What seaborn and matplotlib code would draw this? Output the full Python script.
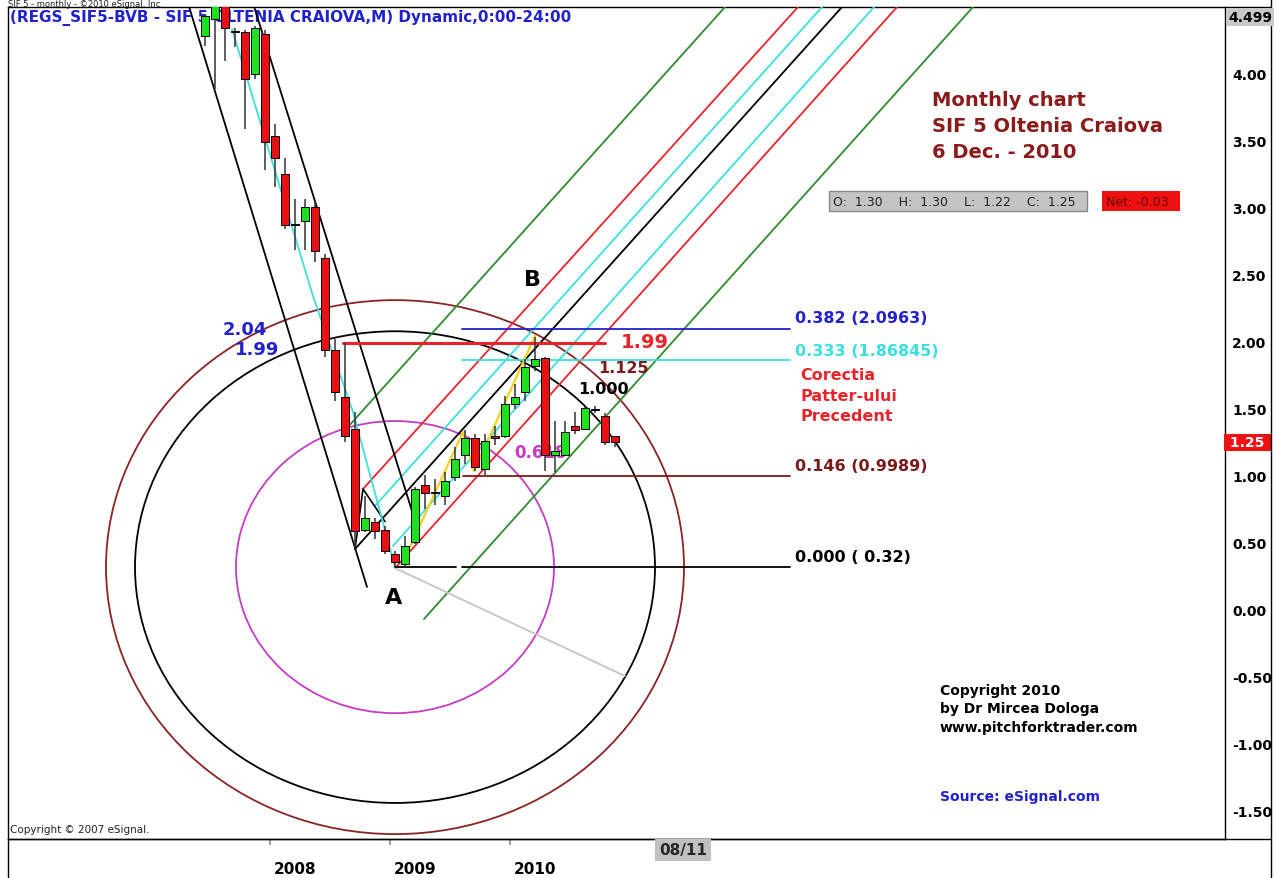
import numpy as np
import seaborn as sns
import matplotlib.pyplot as plt
import matplotlib.transforms as mtransforms
from matplotlib.patches import Ellipse
from matplotlib.lines import Line2D

sns.set_theme(style="white")
plt.rcParams['font.family'] = ['DejaVu Sans']

# monthly candles SIF5, index 0 = Jul 2007 ... 41 = Dec 2010
opens = [4.28, 4.41, 4.60, 4.32, 4.31, 4.00, 4.30, 3.54, 3.25, 2.88, 2.90, 3.01, 2.63, 1.94,
         1.59, 1.35, 0.60, 0.66, 0.60, 0.42, 0.34, 0.51, 0.93, 0.88, 0.85, 0.99, 1.16, 1.28,
         1.05, 1.30, 1.30, 1.54, 1.63, 1.82, 1.88, 1.16, 1.16, 1.37, 1.35, 1.50, 1.45, 1.30]
highs = [4.45, 4.70, 4.70, 4.34, 4.33, 4.36, 4.33, 3.63, 3.37, 3.07, 3.07, 3.05, 2.66, 2.02,
         1.99, 1.48, 0.85, 0.69, 0.63, 0.44, 0.55, 0.92, 1.01, 0.98, 1.03, 1.22, 1.34, 1.31,
         1.31, 1.37, 1.60, 1.69, 1.87, 2.04, 1.89, 1.41, 1.41, 1.48, 1.52, 1.52, 1.47, 1.30]
lows = [4.21, 3.89, 4.10, 4.20, 3.59, 3.96, 3.28, 3.16, 2.84, 2.69, 2.69, 2.60, 1.89, 1.56,
        1.25, 0.46, 0.58, 0.53, 0.42, 0.32, 0.33, 0.49, 0.75, 0.78, 0.78, 0.96, 1.09, 1.04,
        1.01, 1.23, 1.28, 1.50, 1.56, 1.78, 1.04, 1.03, 1.15, 1.31, 1.34, 1.47, 1.23, 1.22]
closes = [4.43, 4.55, 4.34, 4.31, 3.96, 4.34, 3.49, 3.37, 2.87, 2.87, 3.01, 2.68, 1.94, 1.63,
          1.30, 0.59, 0.69, 0.59, 0.44, 0.36, 0.48, 0.90, 0.87, 0.87, 0.96, 1.13, 1.28, 1.07,
          1.26, 1.28, 1.54, 1.59, 1.81, 1.87, 1.16, 1.19, 1.33, 1.34, 1.51, 1.49, 1.25, 1.25]

year_ticks = [6.5, 18.5, 30.5]
year_labels = ['2008', '2009', '2010']
price_ticks = [-1.5, -1.0, -0.5, 0.0, 0.5, 1.0, 1.5, 2.0, 2.5, 3.0, 3.5, 4.0]

# pitchfork parallels: start point and end at top edge
fork_x0 = [14.3, 15.8, 17.0, 15.0, 18.8, 19.2, 21.9]
fork_y0 = [1.366, 0.903, 0.776, 0.455, 0.478, 0.328, -0.067]
fork_x1 = [52.6, 59.9, 62.3, 64.3, 67.5, 69.8, 77.4]
fork_y1 = [4.55, 4.55, 4.55, 4.55, 4.55, 4.55, 4.55]
fork_colors = ['#2e8b2e', '#e8242a', '#3cdede', 'black', '#3cdede', '#e8242a', '#2e8b2e']

# downtrend channel
down_left_x, down_left_y = [-2.0, 16.2], [4.60, 0.172]
down_right_x, down_right_y = [4.5, 20.7], [4.60, 0.739]
cyan_x = [2.7, 10.8, 14.8, 19.0]
cyan_y = [4.336, 2.343, 1.478, 0.321]
yellow_x = [20.5, 25.8, 26.9, 33.0]
yellow_y = [0.47, 1.328, 1.037, 2.045]
handle_x, handle_y = [15.0, 15.8, 18.0], [0.455, 0.903, 0.66]
gray_x, gray_y = [19.0, 42.0], [0.313, -0.493]

# fibonacci levels
lvl_values = [0.32, 0.9989, 1.86845, 2.0963]
lvl_x0 = [25.7, 25.8, 25.7, 25.7]
lvl_x1 = 58.5
lvl_colors = ['black', '#7a1a1a', '#3cdede', '#2222cc']
lvl_texts = ['0.000 ( 0.32)', '0.146 (0.9989)', '0.333 (1.86845)', '0.382 (2.0963)']
lvl_text_y = [0.40, 1.08, 1.94, 2.18]
red_level = 1.99

# fib circles around A
circ_center = (19.0, 0.32)
circ_w = [31.8, 52.0, 57.8]
circ_h = [2.18, 3.52, 3.985]
circ_colors = ['#c43cc4', 'black', '#8b2323']

W, H = 1287, 879
L, R, T, B = 8, 1225, 8, 840
fig = plt.figure(figsize=(W / 100, H / 100), dpi=100)
fig.patch.set_facecolor('white')
ax = fig.add_axes([L / W, 1 - B / H, (R - L) / W, (B - T) / H])
ax.set_facecolor('white')
ax.set_xlim(-19.7, 102.0)
ax.set_ylim(-1.709, 4.50)


def fx(x):
    return x / W


def fy(y):
    return 1 - y / H


def axx(x):
    return (x - L) / (R - L)


def axy(y):
    return (B - y) / (B - T)


# header inside plot, under the candles
ax.text(axx(10), axy(18), '(REGS_SIF5-BVB - SIF 5 OLTENIA CRAIOVA,M) Dynamic,0:00-24:00',
        transform=ax.transAxes, color='#2222cc', fontsize=11, fontweight='bold',
        va='center', ha='left', zorder=1)

# circles
for w, h, col in zip(circ_w, circ_h, circ_colors):
    ax.add_patch(Ellipse(circ_center, w, h, fill=False, edgecolor=col, lw=1.3, zorder=2))

# fork lines
for x0, y0, x1, y1, col in zip(fork_x0, fork_y0, fork_x1, fork_y1, fork_colors):
    ax.plot([x0, x1], [y0, y1], color=col, lw=1.3, zorder=3)
ax.plot(handle_x, handle_y, color='black', lw=1.2, zorder=3)
ax.plot(down_left_x, down_left_y, color='black', lw=1.3, zorder=3)
ax.plot(down_right_x, down_right_y, color='black', lw=1.3, zorder=3)
ax.plot(cyan_x, cyan_y, color='#3cdede', lw=1.3, zorder=3)
ax.plot(yellow_x, yellow_y, color='#f2d21b', lw=1.6, zorder=3)
ax.plot(gray_x, gray_y, color='#c4c4c4', lw=1.3, zorder=3)

# fib levels
ax.plot([19.0, 25.1], [lvl_values[0]] * 2, color='black', lw=1.3, zorder=3)
for v, x0, col, txt, ty in zip(lvl_values, lvl_x0, lvl_colors, lvl_texts, lvl_text_y):
    ax.plot([x0, lvl_x1], [v, v], color=col, lw=1.3, zorder=3)
    ax.text(59.0, ty, txt, color=col, fontsize=11.5, fontweight='bold', va='center', zorder=4)
ax.plot([13.8, 40.0], [red_level, red_level], color='#e8242a', lw=2.2, zorder=3)

# candles
idx = np.arange(len(opens))
o = np.array(opens)
c = np.array(closes)
up = c >= o
body_bot = np.minimum(o, c)
body_h = np.maximum(np.abs(c - o), 0.012)
body_col = np.where(up, '#1ee01e', '#e81010')
ax.vlines(idx, lows, highs, color='#333333', lw=1.1, zorder=5)
ax.bar(idx, body_h, bottom=body_bot, width=0.72, color=body_col, edgecolor='black',
       linewidth=0.7, zorder=6)

# chart annotations
ax.text(33.5, 1.18, '0.618', color='#c43cc4', fontsize=12, fontweight='bold', ha='center',
        va='center', zorder=4)
ax.text(32.8, 2.47, 'B', color='black', fontsize=16, fontweight='bold', ha='center', va='center', zorder=7)
ax.text(18.9, 0.10, 'A', color='black', fontsize=16, fontweight='bold', ha='center', va='center', zorder=7)
ax.text(4.0, 2.10, '2.04', color='#2222cc', fontsize=13, fontweight='bold', ha='center', va='center', zorder=7)
ax.text(5.2, 1.95, '1.99', color='#2222cc', fontsize=13, fontweight='bold', ha='center', va='center', zorder=7)
ax.text(44.0, 2.0, '1.99', color='#e8242a', fontsize=14, fontweight='bold', ha='center', va='center', zorder=7)
ax.text(41.8, 1.81, '1.125', color='#7a1a1a', fontsize=11.5, fontweight='bold', ha='center', va='center', zorder=7)
ax.text(39.8, 1.65, '1.000', color='black', fontsize=11.5, fontweight='bold', ha='center', va='center', zorder=7)
for ty, txt in zip([1.76, 1.60, 1.45], ['Corectia', 'Patter-ului', 'Precedent']):
    ax.text(59.5, ty, txt, color='#e8242a', fontsize=11.5, fontweight='bold', va='center', zorder=7)

# axes styling
for s in ax.spines.values():
    s.set_color('black')
    s.set_linewidth(1.0)
ax.yaxis.tick_right()
ax.set_yticks(price_ticks)
ax.set_yticklabels(['%.2f' % v for v in price_ticks], fontsize=10, fontweight='bold', color='black')
ax.tick_params(axis='y', length=0, pad=5)
ax.set_xticks(year_ticks)
ax.set_xticklabels(year_labels, fontsize=11, fontweight='bold', color='black')
ax.tick_params(axis='x', direction='out', length=4, color='#999999', pad=12, bottom=True)
offset = mtransforms.ScaledTranslation(18 / 72, 0, fig.dpi_scale_trans)
for lab in ax.get_xticklabels():
    lab.set_transform(lab.get_transform() + offset)
ax.grid(False)

# right axis boxes
ax.text(1.0, 1.25, ' 1.25 ', transform=mtransforms.blended_transform_factory(ax.transAxes, ax.transData),
        color='white', fontsize=10, fontweight='bold', ha='left', va='center',
        bbox=dict(boxstyle='square,pad=0.1', fc='#ee1111', ec='none'), zorder=8, clip_on=False)
fig.text(fx(1228), fy(18), '4.499', color='black', fontsize=10, fontweight='bold', ha='left', va='center',
         bbox=dict(boxstyle='square,pad=0.15', fc='#c8c8c8', ec='none'))

# frame lines
for xs, ys in [([1271, 1271], [0, H]), ([L, 1271], [B, B]), ([L, L], [B, H]), ([R, 1271], [T, T])]:
    fig.add_artist(Line2D([fx(v) for v in xs], [fy(v) for v in ys], color='black', lw=1.0))

fig.text(fx(8), fy(0), 'SIF 5 - monthly - ©2010 eSignal, Inc.', fontsize=6, ha='left', va='top', color='#222222')
fig.text(fx(683), fy(851), '08/11', fontsize=11, fontweight='bold', ha='center', va='center',
         bbox=dict(boxstyle='square,pad=0.25', fc='#c0c0c0', ec='none'))

# info texts
for i, txt in enumerate(['Monthly chart', 'SIF 5 Oltenia Craiova', '6 Dec. - 2010']):
    fig.text(fx(932), fy(100 + 26.5 * i), txt, color='#8b1a1a', fontsize=14, fontweight='bold', va='center')
fig.text(fx(833), fy(202), 'O:  1.30    H:  1.30    L:  1.22    C:  1.25  ', fontsize=9, color='#222222',
         va='center', bbox=dict(boxstyle='square,pad=0.3', fc='#c4c4c4', ec='#888888'))
fig.text(fx(1106), fy(202), 'Net: -0.03  ', fontsize=9, color='#6a0000', va='center',
         bbox=dict(boxstyle='square,pad=0.3', fc='#ee1111', ec='none'))
for i, txt in enumerate(['Copyright 2010', 'by Dr Mircea Dologa', 'www.pitchforktrader.com']):
    fig.text(fx(940), fy(691 + 18.5 * i), txt, color='black', fontsize=10, fontweight='bold', va='center')
fig.text(fx(940), fy(797), 'Source: eSignal.com', color='#2222cc', fontsize=10, fontweight='bold', va='center')
fig.text(fx(10), fy(830), 'Copyright © 2007 eSignal.', color='#222222', fontsize=7.5, va='center')

fig.savefig('out.png', dpi=100)
